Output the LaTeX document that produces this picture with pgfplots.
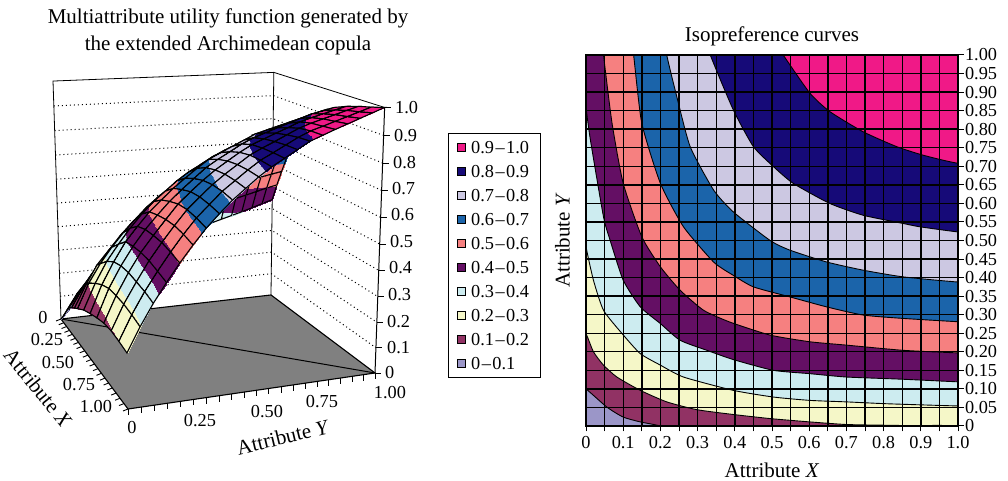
\documentclass[border=0pt]{standalone}
\usepackage{fontspec}
\setmainfont{Liberation Serif}
\usepackage{pgfplots}
\pgfplotsset{compat=1.18}
\usepackage{pgfplotstable}

\definecolor{cA}{RGB}{155,150,200}
\definecolor{cB}{RGB}{145,50,100}
\definecolor{cC}{RGB}{245,247,200}
\definecolor{cD}{RGB}{205,236,240}
\definecolor{cE}{RGB}{100,15,100}
\definecolor{cF}{RGB}{246,128,128}
\definecolor{cG}{RGB}{27,100,170}
\definecolor{cH}{RGB}{204,200,226}
\definecolor{cI}{RGB}{22,10,120}
\definecolor{cJ}{RGB}{240,25,135}
\newcommand\txt{\fontsize{18.3}{22}\selectfont}
\newcommand\lbl{\fontsize{21}{26.7}\selectfont}
\newcommand\rg[2]{#1\kern1.5pt--\kern1.5pt#2}

% perspective of the 3D box, model (X,Y,Z) to picture position
\def\pw{(1-0.1797*\thisrow{X}+0.0709*\thisrow{Y}-0.05*\thisrow{Z})}
\def\px{(44*\thisrow{X}+229.2*\thisrow{Y}-10.65*\thisrow{Z}+61)/\pw}
\def\py{(16.5*\thisrow{X}-3.1*\thisrow{Y}-242*\thisrow{Z}+319)/\pw}
% the drawn surface bulges a little more than the contour map says
\def\pys{\py-230*\thisrow{X}*(1-\thisrow{X})*\thisrow{Z}*(1-\thisrow{Z})}

% utility surface, one scan line per X, far side first
\pgfplotstableread[row sep=\\]{
X Y Z\\
0 1 0.44\\0 0.95 0.426\\0 0.9 0.411\\0 0.85 0.397\\0 0.8 0.384\\0 0.75 0.371\\0 0.7 0.358\\0 0.65 0.345\\0 0.6 0.331\\0 0.55 0.318\\0 0.5 0.305\\0 0.45 0.286\\0 0.4 0.265\\0 0.35 0.243\\0 0.3 0.221\\0 0.25 0.2\\0 0.2 0.167\\0 0.15 0.133\\0 0.1 0.1\\0 0.05 0.05\\0 0 0\\
0.05 1 0.505\\0.05 0.95 0.495\\0.05 0.9 0.483\\0.05 0.85 0.471\\0.05 0.8 0.46\\0.05 0.75 0.448\\0.05 0.7 0.436\\0.05 0.65 0.424\\0.05 0.6 0.412\\0.05 0.55 0.4\\0.05 0.5 0.379\\0.05 0.45 0.358\\0.05 0.4 0.338\\0.05 0.35 0.317\\0.05 0.3 0.293\\0.05 0.25 0.26\\0.05 0.2 0.226\\0.05 0.15 0.19\\0.05 0.1 0.142\\0.05 0.05 0.094\\0.05 0 0.03\\
0.1 1 0.565\\0.1 0.95 0.556\\0.1 0.9 0.547\\0.1 0.85 0.537\\0.1 0.8 0.528\\0.1 0.75 0.518\\0.1 0.7 0.509\\0.1 0.65 0.498\\0.1 0.6 0.479\\0.1 0.55 0.46\\0.1 0.5 0.441\\0.1 0.45 0.422\\0.1 0.4 0.403\\0.1 0.35 0.371\\0.1 0.3 0.337\\0.1 0.25 0.303\\0.1 0.2 0.263\\0.1 0.15 0.224\\0.1 0.1 0.179\\0.1 0.05 0.127\\0.1 0 0.06\\
0.15 1 0.625\\0.15 0.95 0.618\\0.15 0.9 0.611\\0.15 0.85 0.605\\0.15 0.8 0.595\\0.15 0.75 0.578\\0.15 0.7 0.562\\0.15 0.65 0.546\\0.15 0.6 0.529\\0.15 0.55 0.513\\0.15 0.5 0.495\\0.15 0.45 0.469\\0.15 0.4 0.443\\0.15 0.35 0.417\\0.15 0.3 0.386\\0.15 0.25 0.347\\0.15 0.2 0.306\\0.15 0.15 0.257\\0.15 0.1 0.206\\0.15 0.05 0.148\\0.15 0 0.085\\
0.2 1 0.68\\0.2 0.95 0.668\\0.2 0.9 0.657\\0.2 0.85 0.645\\0.2 0.8 0.634\\0.2 0.75 0.622\\0.2 0.7 0.611\\0.2 0.65 0.598\\0.2 0.6 0.576\\0.2 0.55 0.554\\0.2 0.5 0.532\\0.2 0.45 0.509\\0.2 0.4 0.481\\0.2 0.35 0.449\\0.2 0.3 0.416\\0.2 0.25 0.377\\0.2 0.2 0.332\\0.2 0.15 0.285\\0.2 0.1 0.23\\0.2 0.05 0.169\\0.2 0 0.1\\
0.25 1 0.73\\0.25 0.95 0.719\\0.25 0.9 0.708\\0.25 0.85 0.695\\0.25 0.8 0.679\\0.25 0.75 0.663\\0.25 0.7 0.647\\0.25 0.65 0.631\\0.25 0.6 0.615\\0.25 0.55 0.597\\0.25 0.5 0.57\\0.25 0.45 0.543\\0.25 0.4 0.516\\0.25 0.35 0.486\\0.25 0.3 0.449\\0.25 0.25 0.412\\0.25 0.2 0.365\\0.25 0.15 0.313\\0.25 0.1 0.262\\0.25 0.05 0.19\\0.25 0 0.11\\
0.3 1 0.775\\0.3 0.95 0.762\\0.3 0.9 0.749\\0.3 0.85 0.736\\0.3 0.8 0.722\\0.3 0.75 0.709\\0.3 0.7 0.693\\0.3 0.65 0.672\\0.3 0.6 0.65\\0.3 0.55 0.628\\0.3 0.5 0.607\\0.3 0.45 0.578\\0.3 0.4 0.547\\0.3 0.35 0.516\\0.3 0.3 0.478\\0.3 0.25 0.433\\0.3 0.2 0.386\\0.3 0.15 0.334\\0.3 0.1 0.276\\0.3 0.05 0.208\\0.3 0 0.12\\
0.4 1 0.84\\0.4 0.95 0.827\\0.4 0.9 0.814\\0.4 0.85 0.801\\0.4 0.8 0.783\\0.4 0.75 0.765\\0.4 0.7 0.747\\0.4 0.65 0.728\\0.4 0.6 0.71\\0.4 0.55 0.686\\0.4 0.5 0.657\\0.4 0.45 0.63\\0.4 0.4 0.597\\0.4 0.35 0.558\\0.4 0.3 0.52\\0.4 0.25 0.474\\0.4 0.2 0.423\\0.4 0.15 0.366\\0.4 0.1 0.306\\0.4 0.05 0.23\\0.4 0 0.14\\
0.5 1 0.89\\0.5 0.95 0.875\\0.5 0.9 0.859\\0.5 0.85 0.844\\0.5 0.8 0.829\\0.5 0.75 0.814\\0.5 0.7 0.799\\0.5 0.65 0.774\\0.5 0.6 0.75\\0.5 0.55 0.726\\0.5 0.5 0.701\\0.5 0.45 0.666\\0.5 0.4 0.629\\0.5 0.35 0.591\\0.5 0.3 0.548\\0.5 0.25 0.505\\0.5 0.2 0.453\\0.5 0.15 0.399\\0.5 0.1 0.329\\0.5 0.05 0.251\\0.5 0 0.155\\
0.6 1 0.925\\0.6 0.95 0.912\\0.6 0.9 0.9\\0.6 0.85 0.882\\0.6 0.8 0.863\\0.6 0.75 0.845\\0.6 0.7 0.826\\0.6 0.65 0.808\\0.6 0.6 0.784\\0.6 0.55 0.754\\0.6 0.5 0.725\\0.6 0.45 0.694\\0.6 0.4 0.653\\0.6 0.35 0.612\\0.6 0.3 0.569\\0.6 0.25 0.52\\0.6 0.2 0.469\\0.6 0.15 0.41\\0.6 0.1 0.343\\0.6 0.05 0.267\\0.6 0 0.17\\
0.7 1 0.95\\0.7 0.95 0.936\\0.7 0.9 0.922\\0.7 0.85 0.908\\0.7 0.8 0.892\\0.7 0.75 0.87\\0.7 0.7 0.849\\0.7 0.65 0.828\\0.7 0.6 0.807\\0.7 0.55 0.778\\0.7 0.5 0.746\\0.7 0.45 0.713\\0.7 0.4 0.675\\0.7 0.35 0.634\\0.7 0.3 0.59\\0.7 0.25 0.535\\0.7 0.2 0.479\\0.7 0.15 0.421\\0.7 0.1 0.352\\0.7 0.05 0.275\\0.7 0 0.185\\
0.8 1 0.97\\0.8 0.95 0.955\\0.8 0.9 0.94\\0.8 0.85 0.925\\0.8 0.8 0.91\\0.8 0.75 0.892\\0.8 0.7 0.868\\0.8 0.65 0.844\\0.8 0.6 0.821\\0.8 0.55 0.796\\0.8 0.5 0.762\\0.8 0.45 0.728\\0.8 0.4 0.691\\0.8 0.35 0.648\\0.8 0.3 0.604\\0.8 0.25 0.548\\0.8 0.2 0.49\\0.8 0.15 0.428\\0.8 0.1 0.357\\0.8 0.05 0.283\\0.8 0 0.195\\
0.9 1 0.985\\0.9 0.95 0.969\\0.9 0.9 0.953\\0.9 0.85 0.937\\0.9 0.8 0.921\\0.9 0.75 0.906\\0.9 0.7 0.884\\0.9 0.65 0.858\\0.9 0.6 0.832\\0.9 0.55 0.807\\0.9 0.5 0.774\\0.9 0.45 0.738\\0.9 0.4 0.702\\0.9 0.35 0.657\\0.9 0.3 0.612\\0.9 0.25 0.557\\0.9 0.2 0.497\\0.9 0.15 0.433\\0.9 0.1 0.365\\0.9 0.05 0.288\\0.9 0 0.2\\
1 1 1\\1 0.95 0.983\\1 0.9 0.966\\1 0.85 0.949\\1 0.8 0.932\\1 0.75 0.914\\1 0.7 0.896\\1 0.65 0.869\\1 0.6 0.842\\1 0.55 0.815\\1 0.5 0.783\\1 0.45 0.746\\1 0.4 0.709\\1 0.35 0.665\\1 0.3 0.618\\1 0.25 0.563\\1 0.2 0.504\\1 0.15 0.44\\1 0.1 0.371\\1 0.05 0.293\\1 0 0.205\\
}\surface

\begin{document}
\begin{tikzpicture}
\path[use as bounding box] (0,0) rectangle (1008pt,481pt);

% left panel, positions worked out in picture pixels
\begin{axis}[
    at={(0,0)}, anchor=south west,
    scale only axis, width=1008pt, height=481pt,
    xmin=0, xmax=1008, ymin=0, ymax=481, y dir=reverse,
    hide axis, clip=false,
    colormap={bands}{color(0cm)=(cA) color(0.99cm)=(cA) color(1cm)=(cB) color(1.99cm)=(cB) color(2cm)=(cC) color(2.99cm)=(cC) color(3cm)=(cD) color(3.99cm)=(cD) color(4cm)=(cE) color(4.99cm)=(cE) color(5cm)=(cF) color(5.99cm)=(cF) color(6cm)=(cG) color(6.99cm)=(cG) color(7cm)=(cH) color(7.99cm)=(cH) color(8cm)=(cI) color(8.99cm)=(cI) color(9cm)=(cJ) color(10cm)=(cJ)},
    point meta min=0, point meta max=1,
]
% floor
\addplot[fill=black!50, draw=black, line width=1.1pt] table[row sep=\\, x expr=\px, y expr=\py] {X Y Z\\0 0 0\\1 0 0\\1 1 0\\0 1 0\\0 0 0\\};
\addplot[black, line width=1pt] table[row sep=\\, x expr=\px, y expr=\py] {X Y Z\\0 0 0\\1 1 0\\};
% walls
\addplot[black, line width=0.8pt] table[row sep=\\, x expr=\px, y expr=\py] {X Y Z\\0 0 0\\0 0 1\\0 1 1\\0 1 0\\};
\addplot[black, line width=0.8pt] table[row sep=\\, x expr=\px, y expr=\py] {X Y Z\\0 1 1\\1 1 1\\};
\addplot[black, line width=1pt] table[row sep=\\, x expr=\px, y expr=\py] {X Y Z\\1 1 0\\1 1 1\\};
% dotted levels on the walls
\pgfplotsset{levels/.style={black, line width=1pt, dash pattern=on 1pt off 3pt}}
\addplot[levels] table[row sep=\\, x expr=\px, y expr=\py] {X Y Z\\0 0 0.1\\0 1 0.1\\1 1 0.1\\};
\addplot[levels] table[row sep=\\, x expr=\px, y expr=\py] {X Y Z\\0 0 0.2\\0 1 0.2\\1 1 0.2\\};
\addplot[levels] table[row sep=\\, x expr=\px, y expr=\py] {X Y Z\\0 0 0.3\\0 1 0.3\\1 1 0.3\\};
\addplot[levels] table[row sep=\\, x expr=\px, y expr=\py] {X Y Z\\0 0 0.4\\0 1 0.4\\1 1 0.4\\};
\addplot[levels] table[row sep=\\, x expr=\px, y expr=\py] {X Y Z\\0 0 0.5\\0 1 0.5\\1 1 0.5\\};
\addplot[levels] table[row sep=\\, x expr=\px, y expr=\py] {X Y Z\\0 0 0.6\\0 1 0.6\\1 1 0.6\\};
\addplot[levels] table[row sep=\\, x expr=\px, y expr=\py] {X Y Z\\0 0 0.7\\0 1 0.7\\1 1 0.7\\};
\addplot[levels] table[row sep=\\, x expr=\px, y expr=\py] {X Y Z\\0 0 0.8\\0 1 0.8\\1 1 0.8\\};
\addplot[levels] table[row sep=\\, x expr=\px, y expr=\py] {X Y Z\\0 0 0.9\\0 1 0.9\\1 1 0.9\\};
% ticks
\addplot[black, line width=0.9pt, quiver={u=-5, v=2}, mark=none] table[row sep=\\, x expr=\px, y expr=\py] {X Y Z\\0 0 0\\0.05 0 0\\0.1 0 0\\0.15 0 0\\0.2 0 0\\0.25 0 0\\0.3 0 0\\0.35 0 0\\0.4 0 0\\0.45 0 0\\0.5 0 0\\0.55 0 0\\0.6 0 0\\0.65 0 0\\0.7 0 0\\0.75 0 0\\0.8 0 0\\0.85 0 0\\0.9 0 0\\0.95 0 0\\1 0 0\\};
\addplot[black, line width=0.9pt, quiver={u=0, v=6}, mark=none] table[row sep=\\, x expr=\px, y expr=\py] {X Y Z\\1 0 0\\1 0.05 0\\1 0.1 0\\1 0.15 0\\1 0.2 0\\1 0.25 0\\1 0.3 0\\1 0.35 0\\1 0.4 0\\1 0.45 0\\1 0.5 0\\1 0.55 0\\1 0.6 0\\1 0.65 0\\1 0.7 0\\1 0.75 0\\1 0.8 0\\1 0.85 0\\1 0.9 0\\1 0.95 0\\1 1 0\\};
\addplot[black, line width=0.9pt, quiver={u=6, v=0}, mark=none] table[row sep=\\, x expr=\px, y expr=\py] {X Y Z\\1 1 0\\1 1 0.1\\1 1 0.2\\1 1 0.3\\1 1 0.4\\1 1 0.5\\1 1 0.6\\1 1 0.7\\1 1 0.8\\1 1 0.9\\1 1 1\\};
% surface
\addplot[surf, shader=faceted interp, faceted color=black, line width=1.1pt, mesh/cols=21, point meta=\thisrow{Z}]
    table[x expr=\px, y expr=\pys] {\surface};

\node[font=\lbl, align=center] at (axis cs:228,31.5) {Multiattribute utility function generated by\\the extended Archimedean copula};
% z labels
\begin{scope}[every node/.style={anchor=west, font=\txt, inner sep=0pt}]
\node at (axis cs:395,108) {1.0};
\node at (axis cs:394,136) {0.9};
\node at (axis cs:393,163) {0.8};
\node at (axis cs:392,189) {0.7};
\node at (axis cs:391,215) {0.6};
\node at (axis cs:390,242) {0.5};
\node at (axis cs:389,268) {0.4};
\node at (axis cs:388,295) {0.3};
\node at (axis cs:387,322) {0.2};
\node at (axis cs:387,348) {0.1};
\node at (axis cs:385,373) {0};
\end{scope}
\begin{scope}[every node/.style={font=\txt, inner sep=0pt}]
\node at (axis cs:43,318) {0};
\node at (axis cs:47,340) {0.25};
\node at (axis cs:58,363) {0.50};
\node at (axis cs:79,385) {0.75};
\node at (axis cs:96,407) {1.00};
\node at (axis cs:132,428) {0};
\node at (axis cs:200,421) {0.25};
\node at (axis cs:267,412) {0.50};
\node at (axis cs:322,402) {0.75};
\node at (axis cs:390,393) {1.00};
\node[rotate=-51, font=\lbl] at (axis cs:38,388) {Attribute \textit{X}};
\node[rotate=13.5, font=\lbl] at (axis cs:283,437) {Attribute \textit{Y}};
\end{scope}
\end{axis}

% right panel
\begin{axis}[
    at={(586pt,55pt)}, anchor=south west,
    scale only axis, width=372pt, height=371pt,
    xmin=0, xmax=1, ymin=0, ymax=1,
    axis on top, clip=true,
    axis line style={line width=1.4pt},
    grid=major, grid style={black, line width=1.4pt},
    tick style={black, line width=1pt},
    tick align=outside, major tick length=5.5pt,
    xtick={0,0.05,...,1.01}, ytick={0,0.05,...,1.01},
    xtick pos=bottom, ytick pos=right,
    xticklabels={0,,0.1,,0.2,,0.3,,0.4,,0.5,,0.6,,0.7,,0.8,,0.9,,1.0},
    yticklabels={0,0.05,0.10,0.15,0.20,0.25,0.30,0.35,0.40,0.45,0.50,0.55,0.60,0.65,0.70,0.75,0.80,0.85,0.90,0.95,1.00},
    tick label style={font=\txt},
    xticklabel style={yshift=-1pt}, yticklabel style={xshift=-2pt},
    title={Isopreference curves},
    title style={font=\lbl, at={(0.5,1)}, yshift=-1pt},
    xlabel={Attribute \textit{X}}, ylabel={Attribute \textit{Y}},
    label style={font=\lbl},
    xlabel style={at={(axis description cs:0.5,0)}, yshift=-33pt},
    ylabel style={at={(axis description cs:-0.034,0.5)}, anchor=south},
    legend image code/.code={\draw[#1, line width=0.8pt] (0pt,-4pt) rectangle (8pt,4pt);},
    reverse legend,
    legend cell align=left,
    legend style={at={(axis description cs:-0.371,0.7898)}, anchor=north west, draw=black, line width=0.8pt,
        font=\txt, row sep=10pt, inner xsep=9pt, inner ysep=7pt,
        /tikz/every odd column/.append style={column sep=3pt},
        nodes={inner ysep=1pt, text height=12pt, text depth=0pt}},
    every axis plot/.append style={smooth, tension=0.35, draw=black, line width=0.9pt},
]
\addplot[fill=cA, sharp plot] table[row sep=\\] {x y\\0 0\\1 0\\1 1\\0 1\\};
\addlegendentry{\rg{0}{0.1}}
\addplot[fill=cB] table[row sep=\\] {x y\\-0.1 0.18\\0 0.1\\0.056 0.051\\0.1 0.024\\0.146 0.011\\0.2 0\\0.3 -0.03\\1.2 -0.2\\1.2 1.2\\-0.2 1.2\\};
\addlegendentry{\rg{0.1}{0.2}}
\addplot[fill=cC] table[row sep=\\] {x y\\-0.05 0.35\\0 0.249\\0.02 0.2\\0.047 0.164\\0.083 0.132\\0.146 0.096\\0.217 0.065\\0.298 0.044\\0.396 0.031\\0.495 0.02\\0.602 0.011\\0.7 0.004\\0.808 0.002\\0.897 0\\1 -0.01\\1.2 -0.2\\1.2 1.2\\-0.2 1.2\\};
\addlegendentry{\rg{0.2}{0.3}}
\addplot[fill=cD] table[row sep=\\] {x y\\-0.02 0.6\\0 0.483\\0.02 0.393\\0.047 0.312\\0.097 0.249\\0.146 0.195\\0.2 0.164\\0.262 0.132\\0.396 0.096\\0.504 0.078\\0.602 0.069\\0.7 0.065\\0.808 0.06\\1 0.054\\1.2 0.05\\1.2 1.2\\-0.2 1.2\\};
\addlegendentry{\rg{0.3}{0.4}}
\addplot[fill=cE] table[row sep=\\] {x y\\-0.01 0.98\\0 0.86\\0.012 0.77\\0.047 0.564\\0.065 0.5\\0.1 0.393\\0.146 0.321\\0.2 0.276\\0.253 0.231\\0.325 0.204\\0.396 0.179\\0.504 0.15\\0.602 0.141\\0.7 0.132\\0.852 0.126\\1 0.119\\1.2 0.11\\1.2 1.2\\-0.2 1.2\\};
\addlegendentry{\rg{0.4}{0.5}}
\addplot[fill=cF] table[row sep=\\] {x y\\0.03 1.15\\0.047 1\\0.07 0.816\\0.1 0.654\\0.15 0.51\\0.2 0.429\\0.253 0.366\\0.316 0.312\\0.387 0.28\\0.495 0.245\\0.602 0.227\\0.7 0.218\\0.852 0.204\\1 0.197\\1.2 0.19\\1.2 1.2\\};
\addlegendentry{\rg{0.5}{0.6}}
\addplot[fill=cG] table[row sep=\\] {x y\\0.11 1.15\\0.128 1\\0.15 0.816\\0.2 0.654\\0.262 0.537\\0.343 0.442\\0.396 0.406\\0.45 0.375\\0.548 0.348\\0.647 0.321\\0.745 0.299\\0.852 0.29\\1 0.281\\1.2 0.27\\1.2 1.2\\};
\addlegendentry{\rg{0.6}{0.7}}
\addplot[fill=cH] table[row sep=\\] {x y\\0.19 1.15\\0.217 1\\0.244 0.888\\0.28 0.753\\0.343 0.636\\0.396 0.577\\0.495 0.5\\0.548 0.474\\0.647 0.442\\0.745 0.42\\0.852 0.402\\1 0.388\\1.2 0.375\\1.2 1.2\\};
\addlegendentry{\rg{0.7}{0.8}}
\addplot[fill=cI] table[row sep=\\] {x y\\0.28 1.15\\0.334 1\\0.396 0.852\\0.45 0.753\\0.504 0.699\\0.557 0.654\\0.655 0.6\\0.745 0.568\\0.852 0.546\\0.897 0.537\\1 0.523\\1.2 0.5\\1.2 1.2\\};
\addlegendentry{\rg{0.8}{0.9}}
\addplot[fill=cJ] table[row sep=\\] {x y\\0.45 1.12\\0.53 1\\0.602 0.897\\0.656 0.847\\0.745 0.793\\0.835 0.753\\0.906 0.73\\1 0.708\\1.2 0.68\\1.2 1.2\\};
\addlegendentry{\rg{0.9}{1.0}}
\end{axis}
\end{tikzpicture}
\end{document}
